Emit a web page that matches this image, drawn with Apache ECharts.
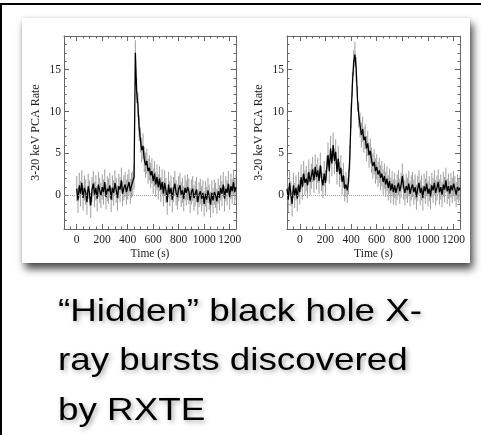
<!DOCTYPE html>
<html>
<head>
<meta charset="utf-8">
<script src="https://cdn.jsdelivr.net/npm/echarts@6/dist/echarts.min.js"></script>
<style>
  html, body { margin: 0; padding: 0; background: #ffffff; }
  #page { position: relative; width: 481px; height: 435px; overflow: hidden; background: #ffffff; }
  #frame { position: absolute; left: 0; top: 3px; width: 700px; height: 700px;
           border-left: 2px solid #000; border-top: 2px solid #000; box-sizing: border-box; }
  #card { position: absolute; left: 22px; top: 18px; width: 448px; height: 245px; background: #fff;
          box-shadow: 3px 6px 8px rgba(0,0,0,0.7), 0 0 3px rgba(0,0,0,0.15); }
  #chart { position: absolute; left: 0; top: 0; width: 481px; height: 435px; }
</style>
</head>
<body>
<div id="page">
  <div id="frame"></div>
  <div id="card"></div>
  <div id="chart"></div>
</div>
<script>
// Binned light curves (counts/s, 3-20 keV), 10 s bins
const binWidth = 10;
const burstAStart = 0;
const burstARate = [
  0.8, -0.6, 1.2, 0.2, 1.5, -0.3, 0.9, 0.4, -0.8, 1.1,
  0.3, -1.2, 0.7, 1.4, 0.1, 0.9, -0.4, 1.3, 0.6, 0.0,
  1.0, 0.4, 1.6, -0.2, 0.8, 0.5, 1.2, -0.5, 0.9, 0.3,
  1.5, 0.6, -0.3, 1.1, 0.7, 1.8, 0.2, 0.9, 1.3, 0.4,
  1.0, 1.6, 0.5, 1.2, 1.4,
  2.2, 17.0, 12.5, 10.8, 8.0,
  6.6, 5.4, 5.9, 4.3, 3.6, 4.1, 2.9, 3.3, 2.4, 2.9,
  1.7, 2.6, 1.3, 2.2, 1.0, 2.0, 0.7, 1.6, 0.2, 1.5,
  0.6, -0.8, 1.3, 0.2, 0.9, -0.5, 0.7, 1.4, 0.3, -0.2,
  0.8, 1.2, 0.1, 0.6, -0.4, 0.9, 0.3, 1.0, 0.5, -0.6,
  0.4, 0.8, -0.3, 0.2, 0.7, -0.8, 0.1, 0.5, -0.4, 0.3,
  -1.0, 0.2, -0.5, 0.6, -0.2, -1.1, 0.3, -0.6, 0.4, 0.0,
  -0.7, 0.5, -0.3, 0.9, 0.2, 1.3, -0.4, 0.8, 0.3, 1.4,
  -0.2, 1.1, 0.5, 1.6, 0.4, 1.0
];
const burstAError = 1.5;

const burstBStart = -100;
const burstBRate = [
  0.8, -0.5, 1.5, 0.2, -1.0, 1.2, 0.0, 0.9, -0.4, 1.3,
  0.4, 2.2, 1.0, 2.6, 1.5, 2.0, 1.2, 2.8, 1.6, 2.3,
  3.1, 1.8, 3.4, 2.2, 3.0, 1.7, 3.6, 2.0, 1.2, 2.6,
  1.5, 3.2, 4.8, 2.9, 5.6, 3.8, 6.0, 4.1, 5.2, 2.8,
  4.4, 2.5, 3.3, 1.6, 2.4, 0.8, 1.3, 0.6, 1.6, 4.5,
  9.5, 13.2, 15.8, 16.8, 15.0, 11.5, 9.6, 8.4, 7.2, 7.9,
  6.6, 7.0, 5.6, 6.2, 4.8, 5.3, 4.2, 3.5, 4.0, 2.9,
  3.4, 2.5, 3.0, 2.1, 2.6, 1.6, 2.3, 1.3, 2.0, 0.9,
  1.7, 0.6, 1.4, 0.4, 1.2, 0.3, 1.0, 1.5, 0.5, 1.2,
  2.3, 1.0, 0.3, 1.1, 0.6, 1.4, 0.2, 0.9, 1.3, 0.4,
  1.0, -0.2, 0.8, 1.5, 0.3, 0.9, -0.3, 1.1, 0.5, 1.4,
  0.2, 0.8, -0.1, 1.2, 0.6, 1.5, 0.3, 0.9, 1.6, 0.4,
  1.0, 0.1, 1.3, 0.7, 1.8, 0.5, 1.1, 0.2, 1.2, 0.6,
  1.4, 0.8, 0.1, 1.0, 0.6, 0.9
];
const burstBError = 1.5;

// Axis ranges and tick labels
const xRange = [-100, 1250];
const yRange = [-4, 19];
const xTickValues = [0, 200, 400, 600, 800, 1000, 1200];
const yTickValues = [0, 5, 10, 15];
const xMinorStep = 50;
const yMinorStep = 1;
const xTitle = 'Time (s)';
const yTitle = '3-20 keV PCA Rate';
const captionLines = ['\u201CHidden\u201D black hole X-', 'ray bursts discovered', 'by RXTE'];

const AXIS_COLOR = '#666';
const serif = '"Liberation Serif", "DejaVu Serif", serif';
const plainNumber = v => String(v);

function toPoints(start, rates, err) {
  return rates.map((v, i) => [start + i * binWidth, v, err]);
}

function xAxesFor(grid) {
  const base = {
    type: 'value', gridIndex: grid, min: xRange[0], max: xRange[1],
    splitLine: { show: false }
  };
  const major = (pos, labels) => Object.assign({}, base, {
    position: pos,
    axisLine: { show: true, onZero: false, lineStyle: { color: AXIS_COLOR, width: 1 } },
    axisTick: { show: true, inside: true, length: 5, customValues: xTickValues, lineStyle: { color: AXIS_COLOR } },
    axisLabel: { show: labels, customValues: xTickValues, formatter: plainNumber, margin: 5,
                 fontFamily: serif, fontSize: 11.5, color: '#222' },
    name: labels ? xTitle : '', nameLocation: 'middle', nameGap: 19,
    nameTextStyle: { fontFamily: serif, fontSize: 11.5, color: '#222' }
  });
  const minor = (pos) => Object.assign({}, base, {
    position: pos, interval: xMinorStep,
    axisLine: { show: false, onZero: false },
    axisTick: { show: true, inside: true, length: 2.5, lineStyle: { color: AXIS_COLOR } },
    axisLabel: { show: false }
  });
  return [major('bottom', true), minor('bottom'), major('top', false), minor('top')];
}

function yAxesFor(grid) {
  const base = {
    type: 'value', gridIndex: grid, min: yRange[0], max: yRange[1],
    splitLine: { show: false }
  };
  const major = (pos, labels) => Object.assign({}, base, {
    position: pos,
    axisLine: { show: true, onZero: false, lineStyle: { color: AXIS_COLOR, width: 1 } },
    axisTick: { show: true, inside: true, length: 5, customValues: yTickValues, lineStyle: { color: AXIS_COLOR } },
    axisLabel: { show: labels, customValues: yTickValues, formatter: plainNumber, margin: 3,
                 fontFamily: serif, fontSize: 11.5, color: '#222' },
    name: labels ? yTitle : '', nameLocation: 'middle', nameGap: 22, nameRotate: 90,
    nameTextStyle: { fontFamily: serif, fontSize: 12, color: '#222' }
  });
  const minor = (pos) => Object.assign({}, base, {
    position: pos, interval: yMinorStep,
    axisLine: { show: false, onZero: false },
    axisTick: { show: true, inside: true, length: 2.5, lineStyle: { color: AXIS_COLOR } },
    axisLabel: { show: false }
  });
  return [major('left', true), minor('left'), major('right', false), minor('right')];
}

function errorBars(points, axisIdx) {
  return {
    type: 'custom', xAxisIndex: axisIdx, yAxisIndex: axisIdx, clip: true, z: 2,
    data: points,
    renderItem: function (params, api) {
      const t = api.value(0), v = api.value(1), e = api.value(2);
      const lo = api.coord([t, v - e]);
      const hi = api.coord([t, v + e]);
      return {
        type: 'line',
        shape: { x1: lo[0], y1: lo[1], x2: hi[0], y2: hi[1] },
        style: { stroke: '#9e9e9e', lineWidth: 1 }
      };
    },
    markLine: {
      silent: true, symbol: 'none', label: { show: false },
      lineStyle: { type: 'dotted', color: '#999', width: 1 },
      data: [{ yAxis: 0 }]
    }
  };
}

function curve(points, axisIdx) {
  return {
    type: 'line', xAxisIndex: axisIdx, yAxisIndex: axisIdx, z: 3,
    data: points.map(p => [p[0], p[1]]),
    showSymbol: false, clip: true,
    lineStyle: { color: '#000', width: 1.3 }
  };
}

const ptsA = toPoints(burstAStart, burstARate, burstAError);
const ptsB = toPoints(burstBStart, burstBRate, burstBError);

const captionY = [312, 361, 411];

const chart = echarts.init(document.getElementById('chart'), null, { renderer: 'canvas' });
chart.setOption({
  animation: false,
  backgroundColor: 'transparent',
  grid: [
    { left: 64, top: 36, width: 172, height: 193 },
    { left: 287, top: 36, width: 173, height: 193 }
  ],
  xAxis: xAxesFor(0).concat(xAxesFor(1)),
  yAxis: yAxesFor(0).concat(yAxesFor(1)),
  series: [
    errorBars(ptsA, 0), curve(ptsA, 0),
    errorBars(ptsB, 4), curve(ptsB, 4)
  ],
  graphic: captionLines.map((line, i) => ({
    type: 'text', x: 58, y: captionY[i], scaleX: 1.15,
    style: {
      text: line, fill: '#000',
      font: '32px "Liberation Sans", Arial, sans-serif',
      verticalAlign: 'middle', align: 'left',
      textShadowColor: 'rgba(0,0,0,0.35)', textShadowBlur: 5,
      textShadowOffsetX: 2, textShadowOffsetY: 2
    }
  }))
});
</script>
</body>
</html>
